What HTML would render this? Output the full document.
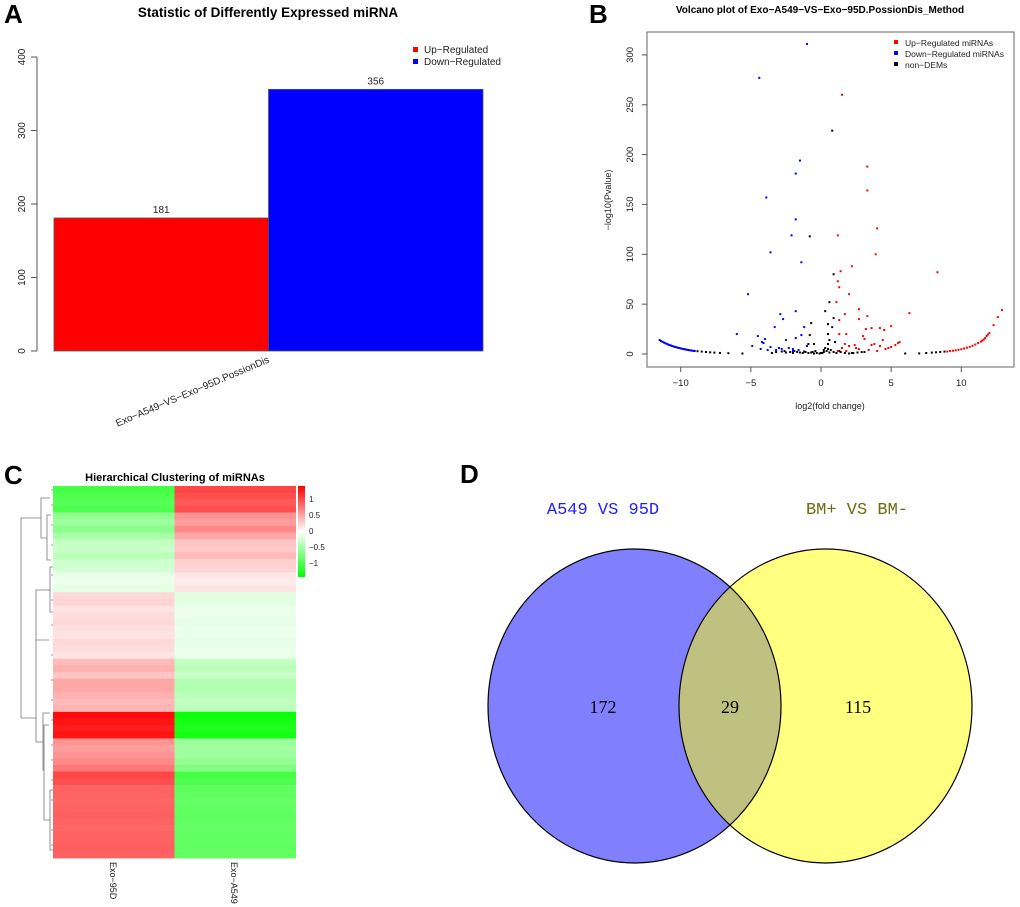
<!DOCTYPE html>
<html><head><meta charset="utf-8"><style>
body{margin:0;background:#fff}
svg{display:block;font-family:"Liberation Sans",Arial,sans-serif}
</style></head><body>
<svg id="fig" width="1020" height="907" viewBox="0 0 1020 907" xmlns="http://www.w3.org/2000/svg">
<!-- Panel letters -->
<text x="4" y="23" font-size="26" font-weight="bold">A</text>
<text x="589" y="23" font-size="26" font-weight="bold">B</text>
<text x="4" y="484" font-size="26" font-weight="bold">C</text>
<text x="460" y="483" font-size="26" font-weight="bold">D</text>

<!-- Panel A -->
<g id="pa">
<text x="268" y="17" font-size="13.5" font-weight="bold" text-anchor="middle">Statistic of Differently Expressed miRNA</text>
<g id="pa-axis"></g>
<g id="pa-bars"></g>
<text transform="translate(270,362) rotate(-23)" font-size="10" text-anchor="end" fill="#222">Exo−A549−VS−Exo−95D.PossionDis</text>
<rect x="413" y="47" width="5" height="5" fill="#f00"/>
<text x="424" y="53" font-size="10" fill="#222">Up−Regulated</text>
<rect x="413" y="59" width="5" height="5" fill="#00f"/>
<text x="424" y="65" font-size="10" fill="#222">Down−Regulated</text>
</g>

<!-- Panel B -->
<g id="pb">
<text x="820" y="13" font-size="10" font-weight="bold" text-anchor="middle">Volcano plot of Exo−A549−VS−Exo−95D.PossionDis_Method</text>
<rect x="647" y="32" width="367" height="335" fill="none" stroke="#666"/>
<g id="pb-axis"></g>
<g id="pb-pts"></g>
<text x="830" y="409" font-size="9" text-anchor="middle" fill="#222">log2(fold change)</text>
<text transform="translate(611,200) rotate(-90)" font-size="9" text-anchor="middle" fill="#222">−log10(Pvalue)</text>
<rect x="894" y="40" width="4" height="4" fill="#f00"/>
<text x="905" y="46" font-size="8.5" fill="#222">Up−Regulated miRNAs</text>
<rect x="894" y="51" width="4" height="4" fill="#00f"/>
<text x="905" y="57" font-size="8.5" fill="#222">Down−Regulated miRNAs</text>
<rect x="894" y="62" width="4" height="4" fill="#000"/>
<text x="905" y="68" font-size="8.5" fill="#222">non−DEMs</text>
</g>

<!-- Panel C -->
<g id="pc">
<text x="175" y="481" font-size="11" font-weight="bold" text-anchor="middle">Hierarchical Clustering of miRNAs</text>
<g id="pc-cells"></g>
<g id="pc-dendro" stroke="#777" stroke-width="0.8" fill="none">
<path d="M21,718 V518 H41 M21,718 H36 V640 H49 M36,640 V742 H43"/>
<path d="M41,518 V498 H50 M41,518 V538 H47 M47,538 V515 H51 M47,538 V560 H51 M36,640 V590 H50 M50,590 V567 H53 M50,590 V612 H53"/>
<path d="M43,742 V713 H50 M43,742 V770 H44 M44,770 V725 H49 M44,770 V820 H50 M50,820 V790 H53 M50,820 V850 H53"/>
<path d="M51,490 H53 M51,505 H53 M51,525 H53 M51,545 H53 M51,575 H53 M51,600 H53 M51,625 H53 M51,655 H53 M51,680 H53 M51,700 H53 M51,720 H53 M51,745 H53 M51,760 H53 M51,780 H53 M51,800 H53 M51,830 H53 M51,845 H53"/>
</g>
<defs><linearGradient id="cbar" x1="0" y1="0" x2="0" y2="1">
<stop offset="0" stop-color="#ff0000"/><stop offset="0.5" stop-color="#ffffff"/><stop offset="1" stop-color="#00ff00"/></linearGradient></defs>
<rect x="298" y="486" width="7" height="91" fill="url(#cbar)"/>
<g font-size="8" fill="#222">
<text x="309" y="502">1</text>
<text x="309" y="518">0.5</text>
<text x="309" y="534">0</text>
<text x="309" y="550">−0.5</text>
<text x="309" y="566">−1</text>
</g>
<text transform="translate(110,862) rotate(90)" font-size="9" fill="#222">Exo−95D</text>
<text transform="translate(231,862) rotate(90)" font-size="9" fill="#222">Exo−A549</text>
</g>

<!-- Panel D -->
<g id="pd">
<defs><clipPath id="clipA"><ellipse cx="634.5" cy="706" rx="146.5" ry="157"/></clipPath></defs>
<ellipse cx="634.5" cy="706" rx="146.5" ry="157" fill="#8080ff"/>
<ellipse cx="825.5" cy="706" rx="146.5" ry="157" fill="#ffff80"/>
<ellipse cx="825.5" cy="706" rx="146.5" ry="157" fill="#c0c080" clip-path="url(#clipA)"/>
<ellipse cx="634.5" cy="706" rx="146.5" ry="157" fill="none" stroke="#000" stroke-width="1.2"/>
<ellipse cx="825.5" cy="706" rx="146.5" ry="157" fill="none" stroke="#000" stroke-width="1.2"/>
<text x="603" y="514" font-family="'Liberation Mono',monospace" font-size="17" fill="#2020ff" text-anchor="middle">A549 VS 95D</text>
<text x="857" y="514" font-family="'Liberation Mono',monospace" font-size="17" fill="#6b6b10" text-anchor="middle">BM+ VS BM-</text>
<g font-family="'Liberation Serif',serif" font-size="18" text-anchor="middle">
<text x="603" y="713">172</text>
<text x="730" y="713">29</text>
<text x="858" y="713">115</text>
</g>
</g>
</svg>
<script>
const NS="http://www.w3.org/2000/svg";
function mk(tag,attrs,parent){const e=document.createElementNS(NS,tag);for(const k in attrs)e.setAttribute(k,attrs[k]);parent.appendChild(e);return e;}

// ---------- Panel A data ----------
const barCategories=["Up-Regulated","Down-Regulated"];
const barValues=[181,356];
const barColors=["#ff0000","#0000ff"];
const barTicks=[0,100,200,300,400];

// ---------- Panel B data ----------
const upX=[1.5,3.3,3.3,4,1.2,3.9,2.2,1.4,8.3,1.2,1.3,2,1.1,2.7,6.3,1.7,3.3,2.7,1.3,5,3.6,4.2,3.2,1.3,1.8,3,4.5,3.1,4.4,5.6,2.4,3.8,4.2,5,2,1.5,2.7,3.6,4.6,5.3,1.2,1.8,4,1.7,2.5,3.4,4.8,5.5,
 9.0,9.2,9.4,9.6,9.8,10.0,10.2,10.4,10.6,10.8,11.0,11.2,11.4,11.5,11.6,11.7,11.8,11.9,12.0,12.3,12.6,12.9];
const upY=[260,188,164,126,119,100,88,83,82,73,67,60,52,45,41,40,38,35,34,28,26,26,25,20,20,18,24,15,14,12,9,10,8,7,8,6,5,9,5,9,3,3,3,10,6,4,6,11,
 2.5,3,3.3,3.7,4.2,4.8,5.5,6.3,7.2,8.3,9.5,11,12.5,13.5,14.5,16,18,19.5,21,29,37,44];
const downX=[-1,-4.4,-1.5,-1.8,-3.9,-1.8,-2.1,-3.6,-1.4,-5.2,-1.8,-2.9,-2.7,-3.3,-6,-4.5,-1.4,-4,-2.5,-1.8,-4.2,-3.6,-3,-2,-4.9,-4.3,-3.2,-2.3,-1.6,-1,-1.2,-2,-4.1,-3.8,-2.8,
 -11.5,-11.4,-11.3,-11.2,-11.1,-11.0,-10.9,-10.8,-10.7,-10.6,-10.5,-10.4,-10.3,-10.2,-10.1,-10.0,-9.9,-9.8,-9.7,-9.6,-9.5,-9.4,-9.3,-9.2,-9.1,-9.0];
const downY=[311,277,194,181,157,135,119,102,92,60,43,40,35,27,20,18,19,15,14,16,12,7,6,5,8,5,4,6,4,8,27,3,11,4,5,
 14,13,12.2,11.5,10.8,10.2,9.6,9.0,8.5,8.0,7.5,7.1,6.7,6.3,6.0,5.6,5.3,5.0,4.7,4.4,4.1,3.9,3.6,3.4,3.2,3.0];
const nonX=[0.8,-0.8,0.9,0.6,0.3,0.9,-0.7,0.5,0.8,0.5,-0.8,0.6,-0.9,0.5,-0.5,1,
 -3.2,-2.8,-2.5,-2.2,-2,-1.7,-1.5,-1.3,-1.1,-0.9,-0.7,-0.5,-0.3,-0.1,0.1,0.2,0.4,0.6,0.7,0.9,1.1,1.4,1.7,2.0,2.3,2.6,2.9,-2.6,-1.9,-1.2,-0.6,0,0.3,0.5,1.3,2.2,3.1,-3.5,-0.4,0.2,
 -8.8,-8.5,-8.2,-7.9,-7.6,-7.2,-6.6,-5.6,6.0,7.0,7.5,7.9,8.2,8.5,8.8];
const nonY=[224,118,80,52,43,36,31,30,27,20,19,14,10,10,10,12,
 2,2.5,1.5,2,1,2,1.5,1,2,1,1.5,0.5,1,0.5,1,2,3,1.5,4,2,1,2,1,0.5,1,1.5,2,3,3,2.5,2,1,6,5,3,1,2,1,3,4,
 2.8,2.4,2,1.7,1.4,1.1,0.8,0.5,0.5,0.6,1,1.4,1.7,2.1,2.4];
const volXTicks=[-10,-5,0,5,10];
const volYTicks=[0,50,100,150,200,250,300];

// ---------- Panel C data ----------
const heat95D=[-0.95,-0.9,-0.85,-0.9,-0.55,-0.5,-0.6,-0.45,-0.3,-0.28,-0.35,-0.25,-0.22,-0.12,-0.1,-0.14,
 0.2,0.22,0.15,0.18,0.2,0.16,0.15,0.2,0.18,0.14,0.35,0.4,0.3,0.45,0.45,0.4,0.35,0.38,
 1.25,1.2,1.15,1.2,0.55,0.5,0.55,0.6,0.7,0.95,0.9,0.8,0.8,0.78,0.8,0.82,0.8,0.78,0.8,0.8,0.82,0.8];
const heatA549=[0.95,0.9,0.85,0.9,0.55,0.5,0.6,0.45,0.3,0.28,0.35,0.25,0.22,0.12,0.1,0.14,
 -0.15,-0.15,-0.1,-0.1,-0.12,-0.1,-0.1,-0.12,-0.1,-0.1,-0.3,-0.35,-0.28,-0.4,-0.4,-0.35,-0.32,-0.35,
 -1.25,-1.2,-1.15,-1.2,-0.5,-0.48,-0.5,-0.55,-0.65,-0.95,-0.9,-0.8,-0.8,-0.78,-0.8,-0.82,-0.8,-0.78,-0.8,-0.8,-0.82,-0.8];

// ---------- Draw A ----------
(function(){
  const ax=document.getElementById('pa-axis'), g=document.getElementById('pa-bars');
  const y=v=>351-v*0.735, x0=54, x1=483, bw=(x1-x0)/barValues.length;
  mk('line',{x1:37,y1:y(0),x2:37,y2:y(400),stroke:'#555'},ax);
  barTicks.forEach(t=>{
    mk('line',{x1:31,y1:y(t),x2:37,y2:y(t),stroke:'#555'},ax);
    const tx=mk('text',{transform:`translate(25,${y(t)}) rotate(-90)`,'font-size':10,'text-anchor':'middle',fill:'#222'},ax);
    tx.textContent=t;
    
    
  });
  barValues.forEach((v,i)=>{
    const r=mk('rect',{x:x0+i*bw,y:y(v),width:bw,height:y(0)-y(v),fill:barColors[i],stroke:'#555','stroke-width':0.8},g);
    
    
    const t=mk('text',{x:x0+i*bw+bw/2,y:y(v)-5,'font-size':10,'text-anchor':'middle',fill:'#222'},g);
    t.textContent=v;
    
    
  });
})();

// ---------- Draw B ----------
(function(){
  const ax=document.getElementById('pb-axis'), g=document.getElementById('pb-pts');
  const x=v=>821+v*14.03, y=v=>354-v*0.997;
  mk('line',{x1:x(-10),y1:367,x2:x(10),y2:367,stroke:'#555'},ax);
  volXTicks.forEach(t=>{
    mk('line',{x1:x(t),y1:367,x2:x(t),y2:372,stroke:'#555'},ax);
    const tx=mk('text',{x:x(t),y:386,'font-size':9.5,'text-anchor':'middle',fill:'#222'},ax);
    tx.textContent=t<0?'−'+(-t):t;
    
    
  });
  mk('line',{x1:647,y1:y(0),x2:647,y2:y(300),stroke:'#555'},ax);
  volYTicks.forEach(t=>{
    mk('line',{x1:642,y1:y(t),x2:647,y2:y(t),stroke:'#555'},ax);
    const tx=mk('text',{transform:`translate(633,${y(t)}) rotate(-90)`,'font-size':9.5,'text-anchor':'middle',fill:'#222'},ax);
    tx.textContent=t;
    
    
  });
  function pts(X,Y,c,name){X.forEach((v,i)=>{
    const r=mk('rect',{x:x(v)-1,y:y(Y[i])-1,width:2,height:2,fill:c},g);
    
    
  });}
  pts(nonX,nonY,'#000','point-non-dem');
  pts(downX,downY,'#0000ff','point-down-regulated');
  pts(upX,upY,'#ff0000','point-up-regulated');
})();

// ---------- Draw C ----------
(function(){
  const g=document.getElementById('pc-cells');
  const top=486, bot=858, n=heat95D.length, h=(bot-top)/n;
  function col(v){v=Math.max(-1.3,Math.min(1.3,v))/1.3;
    if(v>=0){const k=Math.round(255*(1-v));return `rgb(255,${k},${k})`;}
    const k=Math.round(255*(1+v));return `rgb(${k},255,${k})`;}
  [heat95D,heatA549].forEach((arr,ci)=>{
    arr.forEach((v,i)=>{
      const r=mk('rect',{x:53+ci*121.5,y:top+i*h,width:121.5,height:h+0.4,fill:col(v)},g);
      
      
    });
  });
})();
</script>
</body></html>
